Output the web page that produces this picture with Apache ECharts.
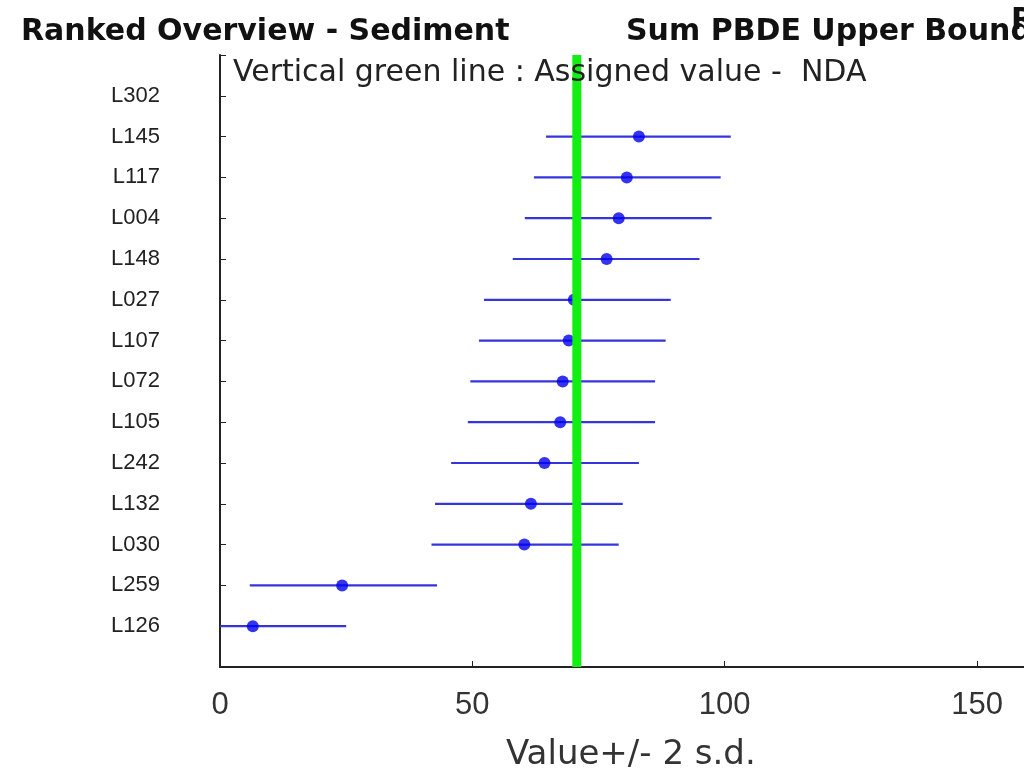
<!DOCTYPE html>
<html>
<head>
<meta charset="utf-8">
<script src="https://cdn.jsdelivr.net/npm/echarts@6/dist/echarts.min.js"></script>
<style>
    html, body { margin: 0; padding: 0; background: #fff; }
    #chart { width: 1024px; height: 771px; }
</style>
</head>
<body>
<div id="chart"></div>
<script>
// labs from bottom (position 1) to top (position 14)
var labs = ['L126', 'L259', 'L030', 'L132', 'L242', 'L105', 'L072', 'L107', 'L027', 'L148', 'L004', 'L117', 'L145', 'L302'];
var values = [6.5, 24.2, 60.3, 61.6, 64.3, 67.4, 67.9, 69.1, 70.1, 76.6, 79.0, 80.6, 83.0, null];
var lows = [-12.0, 5.9, 41.9, 42.6, 45.8, 49.1, 49.6, 51.3, 52.3, 58.0, 60.4, 62.2, 64.6, null];
var highs = [25.0, 43.0, 79.0, 79.8, 83.0, 86.2, 86.2, 88.3, 89.3, 95.0, 97.4, 99.2, 101.2, null];
var assigned = 70.7;
var xTicks = [0, 50, 100, 150];

var barData = [];
var dotData = [];
for (var i = 0; i < labs.length; i++) {
    if (values[i] === null) continue;
    barData.push([lows[i], highs[i], i + 1]);
    dotData.push([values[i], i + 1]);
}

var chart = echarts.init(document.getElementById('chart'));

var titleFont = {fontFamily: 'DejaVu Sans', fontWeight: 'bold', fontSize: 30, color: '#111'};

var option = {
    backgroundColor: '#fff',
    animation: false,
    title: [
        {text: 'Ranked Overview - Sediment', left: 16, top: 12, textStyle: titleFont},
        {text: 'Sum PBDE Upper Bound', left: 621, top: 12, textStyle: titleFont},
        {
            text: 'Vertical green line : Assigned value -  NDA',
            left: 228, top: 53,
            textStyle: {fontFamily: 'DejaVu Sans', fontWeight: 'normal', fontSize: 30, color: '#222'}
        }
    ],
    graphic: [
        {
            type: 'text',
            x: 1011,
            y: 6,
            style: {text: 'Ra', font: 'bold 30px "DejaVu Sans"', fill: '#111'},
            z: 10
        },
        {
            type: 'text',
            x: 506,
            y: 738,
            style: {text: 'Value+/- 2 s.d.', font: '34px "DejaVu Sans"', fill: '#333'}
        }
    ],
    grid: {
        left: 220,
        top: 55,
        right: 0,
        bottom: 104,
        containLabel: false
    },
    xAxis: {
        type: 'value',
        min: 0,
        max: 159.3,
        interval: 50,
        axisLine: {lineStyle: {color: '#222', width: 2}},
        axisTick: {inside: true, length: 6, lineStyle: {color: '#222', width: 1}},
        axisLabel: {
            fontFamily: 'Liberation Sans', fontSize: 31, color: '#333', margin: 23,
            showMaxLabel: false,
            formatter: function (v) {
                return xTicks.indexOf(v) >= 0 ? String(v) : '';
            }
        },
        splitLine: {show: false}
    },
    yAxis: {
        type: 'value',
        min: 0,
        max: 15,
        interval: 1,
        axisLine: {show: true, onZero: false, lineStyle: {color: '#222', width: 2}},
        axisTick: {inside: true, length: 6, lineStyle: {color: '#222', width: 1}},
        axisLabel: {
            fontFamily: 'Liberation Sans', fontSize: 22, color: '#222', margin: 60,
            formatter: function (v) {
                return labs[v - 1] || '';
            }
        },
        splitLine: {show: false}
    },
    series: [
        {
            type: 'custom',
            clip: true,
            data: barData,
            encode: {x: [0, 1], y: 2},
            renderItem: function (params, api) {
                var a = api.coord([api.value(0), api.value(2)]);
                var b = api.coord([api.value(1), api.value(2)]);
                return {
                    type: 'line',
                    shape: {x1: a[0], y1: a[1], x2: b[0], y2: b[1]},
                    style: {stroke: '#3535dc', lineWidth: 2.2}
                };
            },
            z: 2
        },
        {
            type: 'scatter',
            data: dotData,
            symbol: 'circle',
            symbolSize: 12,
            itemStyle: {color: '#0000ee'},
            z: 3
        },
        {
            type: 'line',
            data: [[assigned, 0], [assigned, 15]],
            symbol: 'none',
            lineStyle: {color: '#11ee11', width: 9},
            z: 4
        }
    ]
};

chart.setOption(option);
</script>
</body>
</html>
